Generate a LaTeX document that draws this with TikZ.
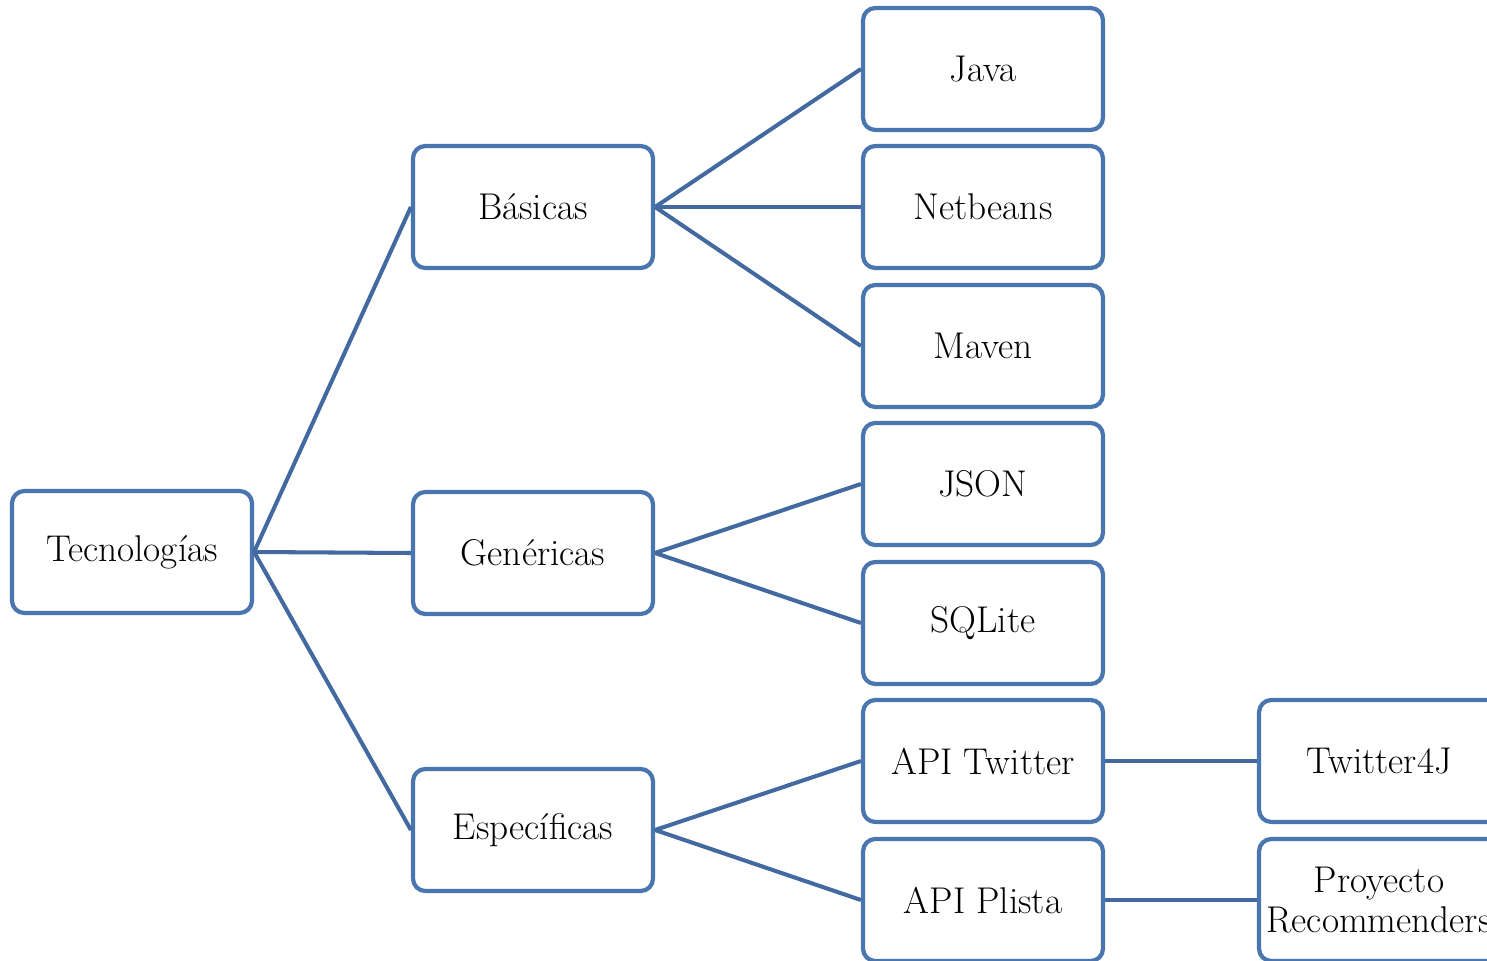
\documentclass[tikz,border=0pt]{standalone}
\usetikzlibrary{positioning}

\definecolor{boxblue}{RGB}{74,118,175}
\definecolor{linkblue}{RGB}{67,106,160}

\tikzset{
  item/.style={draw=boxblue, line width=2.4pt, rounded corners=7pt, fill=white,
    minimum width=4.8cm, minimum height=2.44cm, align=center,
    font=\fontsize{21.2}{23}\selectfont},
  link/.style={draw=linkblue, line width=2.3pt}
}

\begin{document}
\begin{tikzpicture}[x=0.02cm, y=-0.02cm]
  \useasboundingbox (0,0) rectangle (1487,960);
  % root
  \node[item] (tec) at (132,552) {Tecnolog\'ias};
  % second level
  \node[item] (bas) at (533,207) {B\'asicas};
  \node[item] (gen) at (533,553) {Gen\'ericas};
  \node[item] (esp) at (533,830) {Espec\'ificas};
  % third level
  \node[item] (java) at (983,69) {Java};
  \node[item] (netb) at (983,207) {Netbeans};
  \node[item] (mav) at (983,346) {Maven};
  \node[item] (json) at (983,484) {JSON};
  \node[item] (sql) at (983,623) {SQLite};
  \node[item] (twit) at (983,761) {API Twitter};
  \node[item] (plis) at (983,900) {API Plista};
  % fourth level
  \node[item] (t4j) at (1379,761) {Twitter4J};
  \node[item] (rec) at (1379,900) {Proyecto\\Recommenders};

  \begin{scope}[link]
    \draw (tec.east) -- (bas.west);
    \draw (tec.east) -- (gen.west);
    \draw (tec.east) -- (esp.west);
    \draw (bas.east) -- (java.west);
    \draw (bas.east) -- (netb.west);
    \draw (bas.east) -- (mav.west);
    \draw (gen.east) -- (json.west);
    \draw (gen.east) -- (sql.west);
    \draw (esp.east) -- (twit.west);
    \draw (esp.east) -- (plis.west);
    \draw (twit.east) -- (t4j.west);
    \draw (plis.east) -- (rec.west);
  \end{scope}
\end{tikzpicture}
\end{document}
